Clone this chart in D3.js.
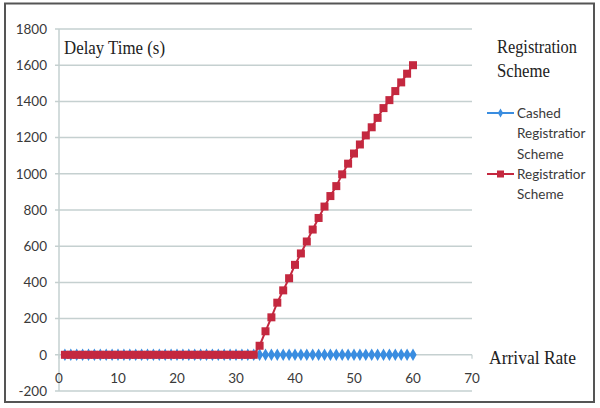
<!DOCTYPE html>
<html><head><meta charset="utf-8">
<script src="https://cdn.jsdelivr.net/npm/d3@7"></script>
<style>body{margin:0;background:#fff}svg{display:block}</style>
</head><body>
<svg id="c" width="600" height="408"></svg>
<script>
const xValues = d3.range(1, 61);
const cachedValues = xValues.map(() => 0);
const registrationValues = [0,0,0,0,0,0,0,0,0,0,0,0,0,0,0,0,0,0,0,0,0,0,0,0,0,0,0,0,0,0,0,0,0,
  50,130,207,288,356,423,497,560,626,692,756,819,877,932,997,1056,1112,1162,1212,1257,1309,1363,1407,1457,1505,1553,1600];
const xTicks = [0,10,20,30,40,50,60,70];
const yTicks = [-200,0,200,400,600,800,1000,1200,1400,1600,1800];
const seriesNames = [["Cashed","Registratior","Scheme"],["Registratior","Scheme"]];

const svg = d3.select("#c");
const x = d3.scaleLinear().domain([0,70]).range([59,472]);
const y = d3.scaleLinear().domain([-200,1800]).range([391,29]);
const sans = "Lato, 'Open Sans', sans-serif";
const serif = "'Liberation Serif', 'DejaVu Serif', serif";
const textCol = "#3a3a3a";

svg.append("rect").attr("x",5).attr("y",3.5).attr("width",589).attr("height",398.5)
  .attr("fill","#fff").attr("stroke","#555").attr("stroke-width",2);

// gridlines
svg.append("g").selectAll("line").data(yTicks).join("line")
  .attr("x1",x(0)-4).attr("x2",x(70)).attr("y1",d=>y(d)).attr("y2",d=>y(d))
  .attr("stroke","#c5d0d0").attr("stroke-width",1.5);
// y axis line
svg.append("line").attr("x1",x(0)).attr("x2",x(0)).attr("y1",y(1800)).attr("y2",y(-200))
  .attr("stroke","#c5d0d0").attr("stroke-width",1.5);
// x ticks small marks on zero line
svg.append("g").selectAll("line").data(xTicks).join("line")
  .attr("x1",d=>x(d)).attr("x2",d=>x(d)).attr("y1",y(0)).attr("y2",y(0)+4)
  .attr("stroke","#c5d0d0").attr("stroke-width",1.2);

// y tick labels
svg.append("g").selectAll("text").data(yTicks).join("text")
  .attr("x",47).attr("y",d=>y(d)).attr("dy","0.35em").attr("text-anchor","end")
  .attr("font-family",sans).attr("font-size",13.5).attr("fill",textCol).text(d=>d);
// x tick labels
svg.append("g").selectAll("text").data(xTicks).join("text")
  .attr("x",d=>x(d)).attr("y",378).attr("dy","0.35em").attr("text-anchor","middle")
  .attr("font-family",sans).attr("font-size",13.5).attr("fill",textCol).text(d=>d);

const blue = "#3a8de0", red = "#c4283f";
const line = d3.line().x((d,i)=>x(xValues[i])).y(d=>y(d));

// cached series
svg.append("path").datum(cachedValues).attr("d",line).attr("fill","none")
  .attr("stroke",blue).attr("stroke-width",2);
const diamond = d3.symbol().type(d3.symbolDiamond).size(46);
svg.append("g").selectAll("path").data(cachedValues).join("path")
  .attr("transform",(d,i)=>`translate(${x(xValues[i])},${y(d)})`)
  .attr("d",diamond).attr("fill",blue);

// registration series
svg.append("path").datum(registrationValues).attr("d",line).attr("fill","none")
  .attr("stroke",red).attr("stroke-width",2);
svg.append("g").selectAll("rect").data(registrationValues).join("rect")
  .attr("x",(d,i)=>x(xValues[i])-4).attr("y",d=>y(d)-4)
  .attr("width",8).attr("height",8).attr("fill",red);

// titles
svg.append("text").attr("x",64).attr("y",54).attr("font-family",serif).attr("font-size",19)
  .attr("fill","#222").attr("textLength",101).attr("lengthAdjust","spacingAndGlyphs").text("Delay Time (s)");
svg.append("text").attr("x",489).attr("y",364).attr("font-family",serif).attr("font-size",19)
  .attr("fill","#222").attr("textLength",87).attr("lengthAdjust","spacingAndGlyphs").text("Arrival  Rate");
svg.append("text").attr("x",497).attr("y",53).attr("font-family",serif).attr("font-size",19)
  .attr("fill","#222").attr("textLength",80).attr("lengthAdjust","spacingAndGlyphs").text("Registration");
svg.append("text").attr("x",497).attr("y",77).attr("font-family",serif).attr("font-size",19)
  .attr("fill","#222").attr("textLength",53).attr("lengthAdjust","spacingAndGlyphs").text("Scheme");

// legend
const legY = [113,174];
const legCols = [blue, red];
legY.forEach((ly,k)=>{
  svg.append("line").attr("x1",487).attr("x2",514).attr("y1",ly).attr("y2",ly)
    .attr("stroke",legCols[k]).attr("stroke-width",2);
  if(k===0){
    svg.append("path").attr("transform",`translate(500.5,${ly})`).attr("d",d3.symbol().type(d3.symbolDiamond).size(24)).attr("fill",blue);
  } else {
    svg.append("rect").attr("x",497).attr("y",ly-3.5).attr("width",7).attr("height",7).attr("fill",red);
  }
  seriesNames[k].forEach((t,j)=>{
    svg.append("text").attr("x",517).attr("y",ly+j*20.5).attr("dy","0.35em")
      .attr("font-family",sans).attr("font-size",13.5).attr("fill",textCol).text(t);
  });
});
</script>
</body></html>
